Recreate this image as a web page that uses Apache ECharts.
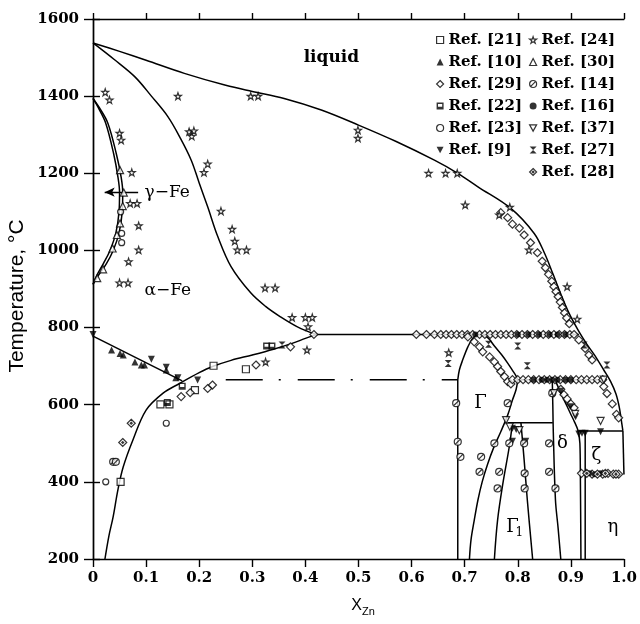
<!DOCTYPE html>
<html><head><meta charset="utf-8">
<script src="https://cdn.jsdelivr.net/npm/echarts@6/dist/echarts.min.js"></script>
<style>html,body{margin:0;padding:0;background:#fff}#c{width:640px;height:624px}</style>
</head><body><div id="c"></div><script>
// ---------- tick labels ----------
const xTickLabels = ['0','0.1','0.2','0.3','0.4','0.5','0.6','0.7','0.8','0.9','1.0'];
const yTickLabels = ['200','400','600','800','1000','1200','1400','1600'];

// ---------- phase boundary curves [X_Zn, T] ----------
const liquidus = [[0,1538],[0.05,1516],[0.1,1493],[0.172,1459],[0.25,1428],[0.3,1412],[0.36,1394],[0.43,1364],[0.5,1325],[0.57,1283],[0.643,1234],[0.687,1200],[0.725,1165],[0.787,1109],[0.831,1044],[0.85,994],[0.866,940],[0.882,884],[0.897,836],[0.915,790],[0.93,757],[0.945,728],[0.962,690],[0.975,660],[0.985,628],[0.991,595],[0.995,560],[0.998,532]];
const liquidusLow = [[0.998,532],[1.0,419]];
const solidusAlpha = [[0,1538],[0.04,1495],[0.079,1450],[0.11,1400],[0.141,1347],[0.165,1290],[0.185,1234],[0.2,1175],[0.216,1113],[0.235,1036],[0.26,958],[0.297,890],[0.325,855],[0.353,828],[0.385,802],[0.42,782]];
const gammaOuter = [[0,1394],[0.012,1370],[0.028,1330],[0.044,1250],[0.053,1190],[0.056,1150],[0.055,1100],[0.049,1045],[0.038,1000],[0.025,965],[0.01,935],[0,912]];
const gammaInner = [[0,1394],[0.01,1370],[0.024,1330],[0.039,1250],[0.047,1190],[0.05,1150],[0.049,1100],[0.043,1045],[0.032,1000],[0.02,967],[0.007,935],[0,912]];
const curieLine = [[0,778],[0.168,662]];
const alphaSolvus = [[0.0225,200],[0.03,260],[0.038,310],[0.047,380],[0.057,439],[0.075,508],[0.1,586],[0.132,630],[0.163,655],[0.2,683],[0.225,699],[0.26,715],[0.3,729],[0.34,744],[0.375,759],[0.4,772],[0.42,782]];
const peritectic782 = [[0.42,782],[0.915,782]];
const eutectoid665 = [[0.25,665],[0.687,665]];
const gammaLeft = [[0.687,200],[0.687,664]];
const gammaDome = [[0.687,664],[0.69,690],[0.696,715],[0.706,750],[0.715,772],[0.725,782],[0.735,781],[0.745,772],[0.756,752],[0.77,729],[0.781,708],[0.79,689],[0.797,674],[0.80,665]];
const gammaRight = [[0.80,665],[0.797,640],[0.79,612],[0.781,573],[0.768,530],[0.755,490],[0.743,445],[0.733,400],[0.725,353],[0.718,300],[0.712,250],[0.709,200]];
const gamma1Top = [[0.781,553],[0.866,553]];
const gamma1Left = [[0.79,553],[0.784,491],[0.772,396],[0.762,301],[0.756,200]];
const gamma1Right = [[0.806,553],[0.812,457],[0.818,353],[0.828,200]];
const deltaLeft = [[0.865,665],[0.866,600],[0.867,526],[0.871,353],[0.876,280],[0.881,200]];
const deltaRight = [[0.870,665],[0.878,640],[0.888,610],[0.899,578],[0.907,555],[0.913,535],[0.917,500],[0.918,400],[0.919,200]];
const zetaLine = [[0.927,532],[0.927,200]];
const peritectic530 = [[0.913,532],[0.998,532]];
const peritectic665 = [[0.80,665],[0.966,665]];
const arrowLine = [[0.085,1151],[0.022,1151]];

// ---------- experimental data ----------
const ref21 = [[0.052,400],[0.127,601],[0.144,601],[0.192,638],[0.227,701],[0.288,692]];
const ref10 = [[0.035,742],[0.051,733],[0.057,729],[0.079,711],[0.091,703],[0.097,703],[0.138,690],[0.156,670]];
const ref29 = [[0.166,621],[0.183,631],[0.216,642],[0.225,651],[0.307,703],[0.372,750],[0.416,782],[0.609,782],[0.628,782],[0.643,782],
 [0.655,782],[0.665,782],[0.675,782],[0.685,782],[0.695,782],[0.705,782],[0.715,782],[0.728,782],[0.738,782],[0.748,782],[0.758,782],[0.768,782],[0.778,782],[0.788,782],[0.798,782],[0.808,782],[0.818,782],[0.828,782],[0.838,782],[0.848,782],[0.858,782],[0.868,782],[0.878,782],[0.888,782],[0.898,782],[0.906,782],
 [0.706,776],[0.718,763],[0.728,750],[0.734,737],[0.747,724],[0.756,711],[0.762,699],[0.768,686],[0.775,673],[0.781,660],[0.787,654],
 [0.79,665],[0.80,665],[0.81,665],[0.82,665],[0.83,665],[0.84,665],[0.85,665],[0.86,665],[0.87,665],[0.88,665],[0.89,665],[0.90,665],[0.91,665],[0.92,665],[0.93,665],[0.94,665],[0.95,665],[0.96,665],
 [0.768,1098],[0.781,1085],[0.79,1068],[0.803,1058],[0.812,1040],[0.824,1020],[0.837,994],[0.846,972],[0.852,955],[0.858,938],[0.864,920],[0.868,906],[0.872,893],[0.876,880],[0.88,866],[0.884,852],[0.888,838],[0.892,825],[0.897,810],
 [0.915,768],[0.927,746],[0.934,729],[0.94,716],[0.962,647],[0.968,629],[0.978,602],[0.986,575],[0.99,566],
 [0.881,640],[0.887,626],[0.893,615],[0.9,602],[0.906,592],
 [0.92,422],[0.94,420],[0.96,420],[0.97,422],[0.98,420],[0.99,420]];
const ref22 = [[0.327,752],[0.337,752],[0.168,648],[0.14,606]];
const ref23 = [[0.024,400],[0.138,552],[0.052,1100],[0.054,1044],[0.054,1020]];
const ref9 = [[0,782],[0.11,718],[0.138,697],[0.16,670],[0.197,664],[0.881,635],[0.899,595],[0.909,569],[0.915,524],[0.921,526],[0.927,526],[0.956,530],[0.79,539],[0.797,536],[0.815,505],[0.79,505]];
const ref24 = [[0.023,1410],[0.031,1390],[0.16,1400],[0.297,1400],[0.311,1400],[0.05,1304],[0.053,1286],[0.181,1308],[0.19,1310],[0.186,1296],[0.216,1224],[0.209,1202],[0.073,1202],[0.07,1122],[0.083,1122],[0.241,1102],[0.086,1064],[0.262,1055],[0.267,1024],[0.272,1001],[0.289,1001],[0.086,1001],[0.067,971],[0.05,916],[0.066,916],[0.324,903],[0.343,903],[0.499,1312],[0.499,1291],[0.632,1200],[0.664,1200],[0.686,1200],[0.701,1118],[0.785,1112],[0.765,1092],[0.821,1001],[0.375,826],[0.40,826],[0.413,826],[0.405,802],[0.403,742],[0.325,711],[0.67,735],[0.893,906],[0.912,822]];
const ref30 = [[0.051,1208],[0.058,1150],[0.056,1115],[0.051,1070],[0.045,1040],[0.037,1005],[0.019,951],[0.008,928]];
const ref14 = [[0.684,604],[0.687,504],[0.692,465],[0.731,465],[0.728,426],[0.781,604],[0.756,500],[0.765,426],[0.762,383],[0.784,500],[0.812,500],[0.813,422],[0.813,383],[0.859,500],[0.859,426],[0.871,383],[0.865,630],[0.038,452],[0.043,452]];
const ref16 = [[0.72,782],[0.80,782],[0.82,782],[0.84,782],[0.86,782],[0.875,782],[0.89,782],[0.83,665],[0.845,665],[0.855,665],[0.865,665],[0.875,665],[0.89,665],[0.9,665],[0.935,422],[0.945,420],[0.955,422]];
const ref37 = [[0.778,560],[0.868,630],[0.956,558],[0.803,534],[0.785,543],[0.908,576],[0.962,665]];
const ref27 = [[0.669,707],[0.745,757],[0.80,752],[0.818,701],[0.925,755],[0.968,703],[0.356,755]];
const ref28 = [[0.93,422],[0.95,420],[0.965,422],[0.985,420],[0.056,502],[0.072,552]];

const legendCol1 = ['Ref. [21]','Ref. [10]','Ref. [29]','Ref. [22]','Ref. [23]','Ref. [9]'];
const legendCol2 = ['Ref. [24]','Ref. [30]','Ref. [14]','Ref. [16]','Ref. [37]','Ref. [27]','Ref. [28]'];

// ---------- chart ----------
const chart = echarts.init(document.getElementById('c'), null, {renderer:'canvas'});
const serif = 'DejaVu Serif';
const SYM = {
  star: 'path://M5,0L6.2,3.6L10,3.6L7,5.9L8.1,9.5L5,7.3L1.9,9.5L3,5.9L0,3.6L3.8,3.6Z',
  down: 'path://M0,0L10,0L5,9Z',
  hour: 'path://M0,0L10,0L0,10L10,10Z',
  sq22: 'path://M0,0L10,0L10,10L0,10Z M2,2L2,6L8,6L8,2Z',
  cslash: 'path://M10,5A5,5,0,1,1,0,5A5,5,0,1,1,10,5Z M2,8L8,2',
  ddot: 'path://M5,0L10,5L5,10L0,5Z M5,3.8L6.2,5L5,6.2L3.8,5Z'
};
const markStyle = {
  'Ref. [21]':['rect',7,false], 'Ref. [10]':['triangle',7,true], 'Ref. [29]':['diamond',8,false],
  'Ref. [22]':[SYM.sq22,7,true], 'Ref. [23]':['circle',6,false], 'Ref. [9]':[SYM.down,7,true],
  'Ref. [24]':[SYM.star,7,false], 'Ref. [30]':['triangle',7,false], 'Ref. [14]':[SYM.cslash,7,false],
  'Ref. [16]':['circle',6,true], 'Ref. [37]':[SYM.down,7,false], 'Ref. [27]':[SYM.hour,7,true],
  'Ref. [28]':[SYM.ddot,8,false]
};
function fillStyle(filled) {
  return filled ? {color:'#000', borderWidth:0} : {color:'#fff', borderColor:'#000', borderWidth:1.2};
}
function curve(data, extra) {
  return Object.assign({type:'line', data, symbol:'none', showSymbol:false, silent:true, z:2,
    lineStyle:{color:'#000', width:1.5}, animation:false}, extra||{});
}
function smoothCurve(data) { return curve(data, {smooth:0.35}); }
function pts(name, data) {
  const s = markStyle[name];
  return {type:'scatter', name, data, symbol:s[0], symbolSize:s[1], z:5, silent:true, animation:false,
    itemStyle: fillStyle(s[2])};
}
function legendItems(names) {
  return names.map(n => ({name:n, icon:markStyle[n][0], itemStyle:fillStyle(markStyle[n][2])}));
}
const tickFont = {fontFamily:serif, fontWeight:'bold', fontSize:15, color:'#000'};
const legendText = {fontFamily:serif, fontWeight:'bold', fontSize:15, lineHeight:16, color:'#000'};
const option = {
  backgroundColor:'#fff',
  animation:false,
  grid:{left:93, right:13, top:19, bottom:65},
  xAxis:[
    {type:'value', min:0, max:1, interval:0.1, position:'bottom',
     axisLine:{lineStyle:{color:'#000', width:1.4}}, axisTick:{inside:false, length:8, lineStyle:{color:'#000', width:1.4}},
     axisLabel:Object.assign({margin:12, formatter:v=>xTickLabels[Math.round(v*10)]}, tickFont), splitLine:{show:false}},
    {type:'value', min:0, max:1, interval:0.1, position:'top',
     axisLine:{lineStyle:{color:'#000', width:1.4}}, axisTick:{inside:false, length:6, lineStyle:{color:'#000', width:1.4}},
     axisLabel:{show:false}, splitLine:{show:false}}
  ],
  yAxis:[
    {type:'value', min:200, max:1600, interval:200, position:'left',
     axisLine:{lineStyle:{color:'#000', width:1.4}}, axisTick:{inside:false, length:9, lineStyle:{color:'#000', width:1.4}},
     axisLabel:Object.assign({margin:14, formatter:v=>yTickLabels[Math.round((v-200)/200)]}, tickFont), splitLine:{show:false}},
    {type:'value', min:200, max:1600, interval:200, position:'right',
     axisLine:{lineStyle:{color:'#000', width:1.4}}, axisTick:{inside:false, length:7, lineStyle:{color:'#000', width:1.4}},
     axisLabel:{show:false}, splitLine:{show:false}}
  ],
  legend:[
    {data:legendItems(legendCol1), orient:'vertical', left:431, top:27, itemWidth:7, itemHeight:7, itemGap:6, selectedMode:false, textStyle:legendText},
    {data:legendItems(legendCol2), orient:'vertical', left:524, top:27, itemWidth:7, itemHeight:7, itemGap:6, selectedMode:false, textStyle:legendText}
  ],
  series:[
    smoothCurve(liquidus), curve(liquidusLow), smoothCurve(solidusAlpha), smoothCurve(gammaOuter), smoothCurve(gammaInner),
    curve(curieLine), smoothCurve(alphaSolvus), curve(peritectic782),
    curve(eutectoid665, {lineStyle:{color:'#000', width:1.5, type:[37,16,2,17]}}),
    curve(gammaLeft), smoothCurve(gammaDome), smoothCurve(gammaRight),
    curve(gamma1Top), smoothCurve(gamma1Left), smoothCurve(gamma1Right),
    smoothCurve(deltaLeft), smoothCurve(deltaRight), curve(zetaLine), curve(peritectic530), curve(peritectic665),
    curve([], {markLine:{silent:true, symbol:['none','arrow'], symbolSize:[7,10], animation:false,
      lineStyle:{color:'#000', width:1.3, type:'solid'}, label:{show:false},
      data:[[{coord:arrowLine[0]},{coord:arrowLine[1]}]]}}),
    pts('Ref. [21]', ref21), pts('Ref. [10]', ref10), pts('Ref. [29]', ref29), pts('Ref. [22]', ref22),
    pts('Ref. [23]', ref23), pts('Ref. [9]', ref9), pts('Ref. [24]', ref24), pts('Ref. [30]', ref30),
    pts('Ref. [14]', ref14), pts('Ref. [16]', ref16), pts('Ref. [37]', ref37), pts('Ref. [27]', ref27),
    pts('Ref. [28]', ref28)
  ]
};
chart.setOption(option);

// ---------- text annotations placed in data coordinates ----------
const annotations = [
  {text:'liquid', at:[0.449,1501], font:'bold 17px "DejaVu Serif"', align:'center'},
  {text:'γ−Fe', at:[0.097,1151], font:'17px "DejaVu Serif"', align:'left'},
  {text:'α−Fe', at:[0.097,897], font:'17px "DejaVu Serif"', align:'left'},
  {text:'Γ', at:[0.730,604], font:'18px "DejaVu Serif"', align:'center'},
  {text:'Γ', at:[0.790,282], font:'18px "DejaVu Serif"', align:'center'},
  {text:'1', at:[0.803,268], font:'12px "DejaVu Serif"', align:'center'},
  {text:'δ', at:[0.884,501], font:'18px "DejaVu Serif"', align:'center'},
  {text:'ζ', at:[0.948,468], font:'18px "DejaVu Serif"', align:'center'},
  {text:'η', at:[0.979,283], font:'18px "DejaVu Serif"', align:'center'}
];
const graphics = annotations.map(a => {
  const p = chart.convertToPixel({xAxisIndex:0, yAxisIndex:0}, a.at);
  return {type:'text', x:p[0], y:p[1], silent:true, z:10,
    style:{text:a.text, font:a.font, fill:'#000', textAlign:a.align, textVerticalAlign:'middle'}};
});
graphics.push({type:'text', x:17, y:296, rotation:Math.PI/2, silent:true,
  style:{text:'Temperature, °C', font:'21px "Liberation Sans"', fill:'#000', textAlign:'center', textVerticalAlign:'middle'}});
graphics.push({type:'text', x:362, y:606, silent:true,
  style:{text:'X', font:'16px "Liberation Sans"', fill:'#000', textAlign:'right', textVerticalAlign:'middle'}});
graphics.push({type:'text', x:362, y:612, silent:true,
  style:{text:'Zn', font:'11px "Liberation Sans"', fill:'#000', textAlign:'left', textVerticalAlign:'middle'}});
chart.setOption({graphic:graphics});
</script></body></html>
